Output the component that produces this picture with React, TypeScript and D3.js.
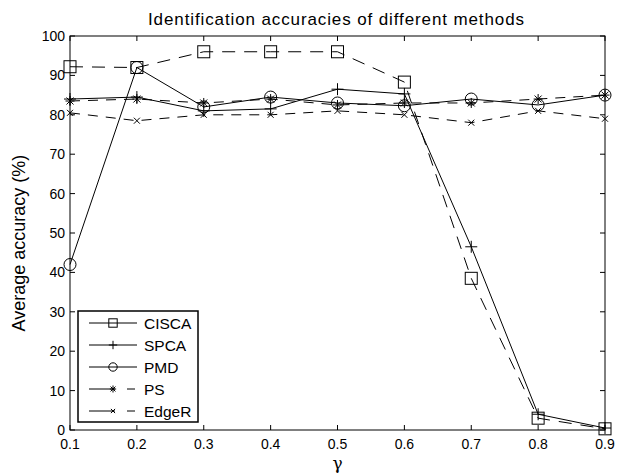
import React from 'react';
import * as d3 from 'd3';

const gammas = [0.1, 0.2, 0.3, 0.4, 0.5, 0.6, 0.7, 0.8, 0.9];
const cisca = [92.2, 92, 96, 96, 96, 88.3, 38.5, 3, 0.3];
const spca = [84, 84.5, 81, 81.5, 86.5, 85.3, 46.5, 4, 0.5];
const pmd = [42, 92, 82, 84.5, 83, 82.3, 84, 82.5, 85];
const ps = [83.5, 84, 83, 84, 82.5, 83, 83, 84, 85];
const edger = [80.5, 78.5, 80, 80, 81, 80, 78, 81, 79];

const xTicks = [0.1, 0.2, 0.3, 0.4, 0.5, 0.6, 0.7, 0.8, 0.9];
const yTicks = [0, 10, 20, 30, 40, 50, 60, 70, 80, 90, 100];

const series = [
  { name: 'CISCA', values: cisca, marker: 'square', dash: '13,9', legendDash: null },
  { name: 'SPCA', values: spca, marker: 'plus', dash: null, legendDash: null },
  { name: 'PMD', values: pmd, marker: 'circle', dash: null, legendDash: null },
  { name: 'PS', values: ps, marker: 'star', dash: '10,8', legendDash: '26,12,8,100' },
  { name: 'EdgeR', values: edger, marker: 'cross', dash: '10,8', legendDash: '26,12,8,100' },
];

const W = 620, H = 476;
const margin = { left: 70, right: 15, top: 36, bottom: 46 };
const font = 'Liberation Sans, Arial, Helvetica, sans-serif';

function Marker({ type, x, y, k = 1 }: { type: string; x: number; y: number; k?: number }) {
  const s = { fill: 'none', stroke: '#000', strokeWidth: 1 };
  if (type === 'square') return <rect x={x - 6 * k} y={y - 6 * k} width={12 * k} height={12 * k} {...s} />;
  if (type === 'circle') return <circle cx={x} cy={y} r={6 * k} {...s} />;
  if (type === 'plus')
    return <path d={`M${x - 6 * k},${y}H${x + 6 * k}M${x},${y - 6 * k}V${y + 6 * k}`} {...s} />;
  if (type === 'cross') {
    const c = 3 * k;
    return <path d={`M${x - c},${y - c}L${x + c},${y + c}M${x - c},${y + c}L${x + c},${y - c}`} {...s} />;
  }
  const a = 4.5 * k, b = 5 * k, c = 3.5 * k;
  return (
    <path
      d={`M${x - a},${y}H${x + a}M${x},${y - b}V${y + b}M${x - c},${y - c}L${x + c},${y + c}M${x - c},${y + c}L${x + c},${y - c}`}
      {...s}
    />
  );
}

export default function App() {
  const x = d3.scaleLinear().domain([0.1, 0.9]).range([margin.left, W - margin.right]);
  const y = d3.scaleLinear().domain([0, 100]).range([H - margin.bottom, margin.top]);
  const line = d3.line<number>().x((d, i) => x(gammas[i])).y(d => y(d));

  const x0 = x.range()[0], x1 = x.range()[1];
  const y0 = y.range()[0], y1 = y.range()[1];

  // legend box
  const lg = { x: 78, y: 311, w: 120, h: 111, row: 22 };

  return (
    <svg width={W} height={H} style={{ position: 'absolute', left: 0, top: 0, background: '#fff' }} fontFamily={font}>
      <rect x={0} y={0} width={W} height={H} fill="#fff" />
      <text x={336} y={25} textAnchor="middle" fontSize={17} textLength={376} lengthAdjust="spacing">
        Identification accuracies of different methods
      </text>

      {xTicks.map(t => (
        <g key={'x' + t}>
          <line x1={x(t)} x2={x(t)} y1={y0} y2={y0 - 5} stroke="#000" />
          <line x1={x(t)} x2={x(t)} y1={y1} y2={y1 + 5} stroke="#000" />
          <text x={x(t)} y={y0 + 19} textAnchor="middle" fontSize={14}>{t}</text>
        </g>
      ))}
      {yTicks.map(t => (
        <g key={'y' + t}>
          <line x1={x0} x2={x0 + 5} y1={y(t)} y2={y(t)} stroke="#000" />
          <line x1={x1} x2={x1 - 5} y1={y(t)} y2={y(t)} stroke="#000" />
          <text x={x0 - 5} y={y(t) + 5} textAnchor="end" fontSize={14}>{t}</text>
        </g>
      ))}
      <rect x={x0} y={y1} width={x1 - x0} height={y0 - y1} fill="none" stroke="#000" />

      <text x={(x0 + x1) / 2} y={469} textAnchor="middle" fontSize={17} fontFamily="DejaVu Serif, serif">γ</text>
      <text transform={`translate(25,${(y0 + y1) / 2 + 10}) rotate(-90)`} textAnchor="middle" fontSize={18}>
        Average accuracy (%)
      </text>

      {series.map(s => (
        <g key={s.name}>
          <path d={line(s.values) || ''} fill="none" stroke="#000" strokeWidth={1} strokeDasharray={s.dash || undefined} />
          {s.values.map((v, i) => (
            <Marker key={i} type={s.marker} x={x(gammas[i])} y={y(v)} />
          ))}
        </g>
      ))}

      <rect x={lg.x} y={lg.y} width={lg.w} height={lg.h} fill="#fff" stroke="#000" strokeWidth={1.5} />
      {series.map((s, i) => {
        const ly = lg.y + 12 + i * lg.row;
        return (
          <g key={'lg' + s.name}>
            <line x1={lg.x + 11} x2={lg.x + 59} y1={ly} y2={ly} stroke="#000" strokeDasharray={s.legendDash || undefined} />
            <Marker type={s.marker} x={lg.x + 35} y={ly} k={0.7} />
            <text x={lg.x + 66} y={ly + 5.5} fontSize={15.5}>{s.name}</text>
          </g>
        );
      })}
    </svg>
  );
}
